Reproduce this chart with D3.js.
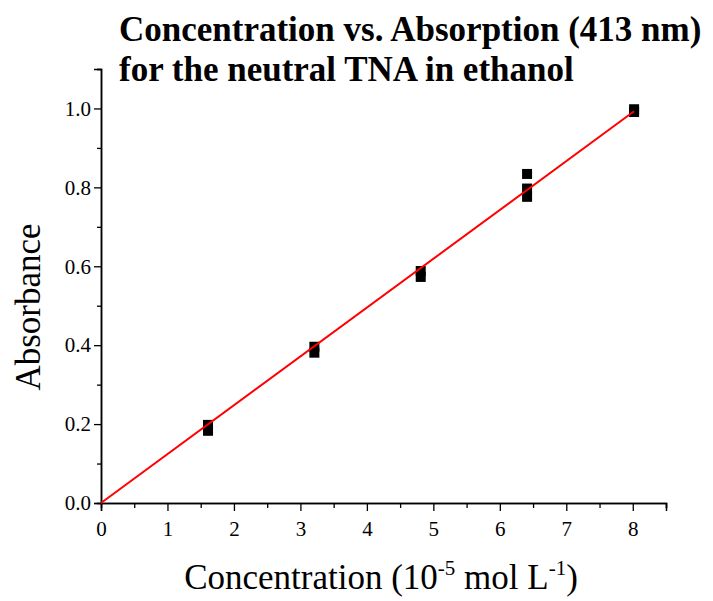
<!DOCTYPE html>
<html>
<head>
<meta charset="utf-8">
<script src="https://cdn.jsdelivr.net/npm/d3@7"></script>
<style>
  body { margin: 0; background: #fff; }
  text { font-family: "Liberation Serif", "Times New Roman", serif; }
  .major .tick text { font-size: 21px; }
</style>
</head>
<body>
<script>
// measured points (concentration, absorbance)
var concentration = [1.61, 1.61, 3.21, 3.21, 4.81, 4.81, 6.41, 6.41, 6.41, 8.02, 8.02];
var absorbance    = [0.198, 0.183, 0.396, 0.381, 0.588, 0.573, 0.834, 0.797, 0.776, 0.998, 0.991];

// linear fit through origin
var fitSlope = 0.1238;
var fitRange = [0, 8.02];

var xTicks = [0, 1, 2, 3, 4, 5, 6, 7, 8];
var yTicks = [0.0, 0.2, 0.4, 0.6, 0.8, 1.0];
var titleLines = ["Concentration vs. Absorption (413 nm)", "for the neutral TNA in ethanol"];

var width = 713, height = 601;
var svg = d3.select("body").append("svg")
  .attr("width", width)
  .attr("height", height);

var x = d3.scaleLinear().domain([0, 8.5]).range([101, 666]);
var y = d3.scaleLinear().domain([0, 1.1]).range([503, 69]);

// title
svg.selectAll("text.title").data(titleLines).enter()
  .append("text")
  .attr("class", "title")
  .attr("x", 119)
  .attr("y", function(d, i) { return 41 + i * 40; })
  .style("font-size", "35px")
  .style("font-weight", "bold")
  .text(function(d) { return d; });

// x axis: minor then major
svg.append("g").attr("transform", "translate(0," + y(0) + ")")
  .call(d3.axisBottom(x).tickValues(d3.range(0.5, 8.51, 1)).tickSize(5).tickFormat(""));
var gx = svg.append("g").attr("class", "major").attr("transform", "translate(0," + y(0) + ")")
  .call(d3.axisBottom(x).tickValues(xTicks).tickSize(8).tickPadding(10).tickFormat(d3.format("d")));

// y axis: minor then major
svg.append("g").attr("transform", "translate(" + x(0) + ",0)")
  .call(d3.axisLeft(y).tickValues(d3.range(0.1, 1.101, 0.2)).tickSize(4).tickFormat(""));
var gy = svg.append("g").attr("class", "major").attr("transform", "translate(" + x(0) + ",0)")
  .call(d3.axisLeft(y).tickValues(yTicks).tickSize(7).tickPadding(3).tickFormat(d3.format(".1f")));

gx.attr("font-size", null).attr("font-family", null);
gy.attr("font-size", null).attr("font-family", null);

svg.selectAll(".domain").attr("stroke", "#000").attr("stroke-width", 1.5);
svg.selectAll(".tick line").attr("stroke", "#000").attr("stroke-width", 1.3);
svg.selectAll(".major .tick text")
  .attr("font-size", 21)
  .attr("fill", "#000");

// axis titles
svg.append("text")
  .attr("transform", "translate(40,307) rotate(-90)")
  .attr("text-anchor", "middle")
  .style("font-size", "35px")
  .text("Absorbance");

var xt = svg.append("text")
  .attr("x", 381)
  .attr("y", 589)
  .attr("text-anchor", "middle")
  .style("font-size", "35px");
xt.append("tspan").text("Concentration (10");
xt.append("tspan").attr("dy", -14).style("font-size", "21px").text("-5");
xt.append("tspan").attr("dy", 14).text(" mol L");
xt.append("tspan").attr("dy", -14).style("font-size", "21px").text("-1");
xt.append("tspan").attr("dy", 14).text(")");

// data points
var pts = concentration.map(function(c, i) { return { x: c, y: absorbance[i] }; });
svg.selectAll("rect.pt").data(pts).enter()
  .append("rect")
  .attr("class", "pt")
  .attr("x", function(d) { return x(d.x) - 5; })
  .attr("y", function(d) { return y(d.y) - 5; })
  .attr("width", 10)
  .attr("height", 10)
  .attr("fill", "#000");

// fit line
svg.append("line")
  .attr("x1", x(fitRange[0]))
  .attr("y1", y(fitRange[0] * fitSlope))
  .attr("x2", x(fitRange[1]))
  .attr("y2", y(fitRange[1] * fitSlope))
  .attr("stroke", "#ff0000")
  .attr("stroke-width", 2);
</script>
</body>
</html>
